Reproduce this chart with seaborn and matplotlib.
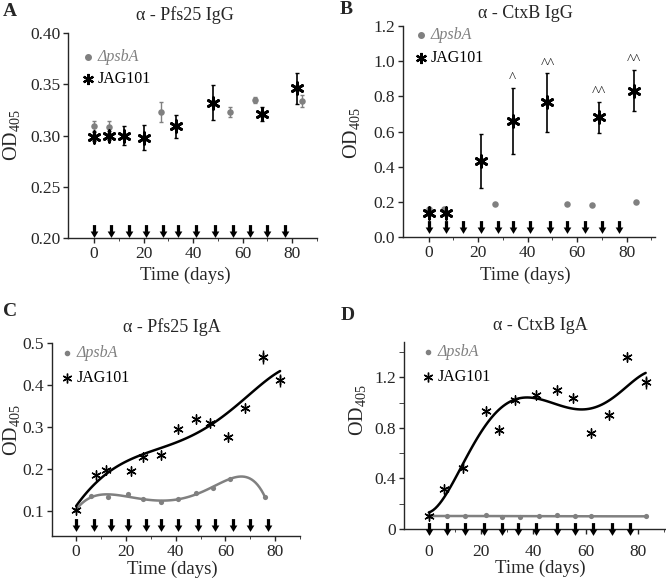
import numpy as np
import pandas as pd
import matplotlib
matplotlib.use("Agg")
import matplotlib.pyplot as plt
from matplotlib.path import Path
from matplotlib.lines import Line2D
import seaborn as sns

# ---------------- data ----------------
immunization_days = [0, 7, 14, 21, 28, 34, 41, 49, 56, 63, 70, 77]

# A: alpha-Pfs25 IgG
a_psba_days = [0, 6, 27, 55, 65, 84]
a_psba_od = [0.309, 0.308, 0.323, 0.323, 0.335, 0.334]
a_psba_err = [0.005, 0.006, 0.010, 0.005, 0.003, 0.006]
a_jag_days = [0, 6, 12, 20, 33, 48, 68, 82]
a_jag_od = [0.299, 0.300, 0.300, 0.298, 0.309, 0.332, 0.321, 0.346]
a_jag_err = [0.004, 0.004, 0.009, 0.012, 0.011, 0.017, 0.007, 0.015]

# B: alpha-CtxB IgG
b_psba_days = [0, 6, 27, 56, 66, 84]
b_psba_od = [0.158, 0.158, 0.185, 0.190, 0.181, 0.200]
b_jag_days = [0, 7, 21, 34, 48, 69, 83]
b_jag_od = [0.135, 0.138, 0.433, 0.660, 0.765, 0.680, 0.833]
b_jag_err = [0.008, 0.008, 0.155, 0.187, 0.165, 0.088, 0.118]
b_sig = ["", "", "", "^", "^^", "^^", "^^"]

# C: alpha-Pfs25 IgA
c_psba_days = [0, 6, 13, 21, 27, 34, 41, 48, 55, 62, 76]
c_psba_od = [0.102, 0.136, 0.132, 0.140, 0.128, 0.120, 0.128, 0.142, 0.155, 0.177, 0.132]
c_jag_days = [0, 8, 12, 22, 27, 34, 41, 48, 54, 61, 68, 75, 82]
c_jag_od = [0.102, 0.186, 0.198, 0.194, 0.229, 0.233, 0.294, 0.320, 0.310, 0.276, 0.346, 0.467, 0.411]
c_jag_err = [0.003, 0.004, 0.004, 0.004, 0.004, 0.004, 0.004, 0.004, 0.004, 0.005, 0.005, 0.016, 0.016]

# D: alpha-CtxB IgA
d_psba_days = [0, 7, 14, 22, 28, 35, 42, 49, 56, 62, 83]
d_psba_od = [0.10, 0.105, 0.105, 0.11, 0.095, 0.095, 0.10, 0.11, 0.10, 0.10, 0.10]
d_jag_days = [0, 6, 13, 22, 27, 33, 41, 49, 55, 62, 69, 76, 83]
d_jag_od = [0.10, 0.32, 0.48, 0.93, 0.78, 1.02, 1.06, 1.10, 1.04, 0.76, 0.90, 1.36, 1.16]
d_jag_err = [0.01, 0.01, 0.01, 0.01, 0.01, 0.01, 0.01, 0.01, 0.01, 0.01, 0.01, 0.02, 0.05]

titles = ["\u03b1 - Pfs25 IgG", "\u03b1 - CtxB IgG", "\u03b1 - Pfs25 IgA", "\u03b1 - CtxB IgA"]
letters = ["A", "B", "C", "D"]
legend_labels = ["\u0394psbA", "JAG101"]

# ---------------- style ----------------
sns.set_style("ticks")
plt.rcParams["font.family"] = ["Liberation Serif", "DejaVu Serif"]
plt.rcParams["mathtext.fontset"] = "custom"
plt.rcParams["mathtext.rm"] = "Liberation Serif"
plt.rcParams["mathtext.it"] = "Liberation Serif:italic"
plt.rcParams["axes.linewidth"] = 1.0
plt.rcParams["xtick.major.width"] = 1.0
plt.rcParams["ytick.major.width"] = 1.0

GREY = "#808080"
W, H = 666, 579
fig = plt.figure(figsize=(W / 100, H / 100), dpi=100)

def px_axes(l, t, r, b):
    return fig.add_axes([l / W, 1 - b / H, (r - l) / W, (b - t) / H])

def fx(x):
    return x / W

def fy(y):
    return 1 - y / H

arrow_marker = Path([(-0.25, 1.0), (0.25, 1.0), (0.25, 0.0), (0.6, 0.0), (0.0, -1.0),
                     (-0.6, 0.0), (-0.25, 0.0), (-0.25, 1.0)],
                    [Path.MOVETO] + [Path.LINETO] * 6 + [Path.CLOSEPOLY])
asterisk = (6, 2, 0)

def style_axis(ax, xlim, ylim, yticks, yfmt, fs=12.5):
    ax.set_xlim(*xlim)
    ax.set_ylim(*ylim)
    ax.set_xticks([0, 20, 40, 60, 80])
    ax.set_xticks([10, 30, 50, 70, 90], minor=True)
    ax.set_yticks(yticks)
    ax.set_yticklabels([yfmt(v) for v in yticks])
    ax.tick_params(axis="both", which="major", direction="out", length=3.5, labelsize=fs, pad=2)
    ax.tick_params(axis="both", which="minor", direction="out", length=2.5)
    sns.despine(ax=ax)
    ax.set_xlabel("")
    ax.set_ylabel("")

def arrows(ax, yval, s=85):
    sns.scatterplot(x=immunization_days, y=[yval] * len(immunization_days), ax=ax,
                    marker=arrow_marker, s=s, color="black", linewidth=0, clip_on=False, zorder=5)

def legend(x, y_dot, y_star, dot_s, star_ms, star_lw, fs=11.5):
    fig.add_artist(Line2D([fx(x)], [fy(y_dot)], marker="o", markersize=dot_s, color=GREY, linestyle="none"))
    fig.add_artist(Line2D([fx(x)], [fy(y_star)], marker=asterisk, markersize=star_ms,
                          markeredgewidth=star_lw, color="black", linestyle="none"))
    fig.text(fx(x + 10), fy(y_dot), legend_labels[0], color=GREY, style="italic",
             fontsize=fs, va="center", ha="left", family="Liberation Serif")
    fig.text(fx(x + 10), fy(y_star), legend_labels[1], color="black",
             fontsize=fs, va="center", ha="left", family="Liberation Serif")

def labels(letter, lx, ly, title, tx, ty, ylx, yly, xlx, xly):
    fig.text(fx(lx), fy(ly), letter, fontsize=14, fontweight="bold", va="center", ha="left")
    fig.text(fx(tx), fy(ty), title, fontsize=13, va="center", ha="center")
    fig.text(fx(ylx), fy(yly), r"OD$_{405}$", fontsize=14.5, rotation=90, va="center", ha="center")
    fig.text(fx(xlx), fy(xly), "Time (days)", fontsize=13.5, va="center", ha="center")

# ---------------- Panel A ----------------
axA = px_axes(68, 33, 317, 238)
axA.errorbar(a_psba_days, a_psba_od, yerr=a_psba_err, fmt="none", ecolor=GREY, elinewidth=1, capsize=1.5)
axA.errorbar(a_jag_days, a_jag_od, yerr=a_jag_err, fmt="none", ecolor="black", elinewidth=1.2, capsize=1.5)
sns.scatterplot(x=a_psba_days, y=a_psba_od, ax=axA, color=GREY, s=22, linewidth=0, zorder=4)
sns.scatterplot(x=a_jag_days, y=a_jag_od, ax=axA, marker=asterisk, s=70, color="black",
                edgecolor="black", linewidth=2, zorder=5)
arrows(axA, 0.2065)
style_axis(axA, (-10.5, 89.6), (0.2, 0.4), [0.2, 0.25, 0.3, 0.35, 0.4], lambda v: f"{v:.2f}")
labels("A", 3, 12, titles[0], 185, 15, 12, 135, 185, 275)
legend(88, 57, 79, 4, 8, 1.6)

# ---------------- Panel B ----------------
axB = px_axes(403, 26, 655, 237)
axB.errorbar(b_jag_days, b_jag_od, yerr=b_jag_err, fmt="none", ecolor="black", elinewidth=1.2, capsize=1.5)
sns.scatterplot(x=b_psba_days, y=b_psba_od, ax=axB, color=GREY, s=22, linewidth=0, zorder=4)
sns.scatterplot(x=b_jag_days, y=b_jag_od, ax=axB, marker=asterisk, s=70, color="black",
                edgecolor="black", linewidth=2, zorder=5)
for d, v, e, t in zip(b_jag_days, b_jag_od, b_jag_err, b_sig):
    if t:
        axB.text(d, v + e + 0.015, t, ha="center", va="bottom", fontsize=11)
arrows(axB, 0.057)
style_axis(axB, (-10.4, 91.5), (0.0, 1.2), [0.0, 0.2, 0.4, 0.6, 0.8, 1.0, 1.2], lambda v: f"{v:.1f}")
labels("B", 340, 10, titles[1], 525, 13, 352, 133, 525, 275)
legend(421, 35, 58, 4, 8, 1.6)

# ---------------- Panel C ----------------
axC = px_axes(52, 343, 300, 536)
sns.regplot(x=np.array(c_jag_days, float), y=np.array(c_jag_od), ax=axC, order=5, ci=None, scatter=False,
            line_kws=dict(color="black", lw=1.8))
sns.regplot(x=np.array(c_psba_days, float), y=np.array(c_psba_od), ax=axC, order=6, ci=None, scatter=False,
            line_kws=dict(color=GREY, lw=1.8))
axC.errorbar(c_jag_days, c_jag_od, yerr=c_jag_err, fmt="none", ecolor="black", elinewidth=1, capsize=0)
sns.scatterplot(x=c_psba_days, y=c_psba_od, ax=axC, color=GREY, s=14, linewidth=0, zorder=4)
sns.scatterplot(x=c_jag_days, y=c_jag_od, ax=axC, marker=asterisk, s=45, color="black",
                edgecolor="black", linewidth=1, zorder=5)
arrows(axC, 0.067)
style_axis(axC, (-9.7, 89.3), (0.04, 0.5), [0.1, 0.2, 0.3, 0.4, 0.5], lambda v: f"{v:.1f}")
labels("C", 3, 312, titles[2], 172, 327, 11, 430, 172, 569)
legend(67, 353, 378, 3, 7, 1.0)

# ---------------- Panel D ----------------
axD = px_axes(404, 342, 665, 529)
sns.regplot(x=np.array(d_jag_days, float), y=np.array(d_jag_od), ax=axD, order=5, ci=None, scatter=False,
            line_kws=dict(color="black", lw=1.8))
sns.regplot(x=np.array(d_psba_days, float), y=np.array(d_psba_od), ax=axD, order=3, ci=None, scatter=False,
            line_kws=dict(color=GREY, lw=1.8))
axD.errorbar(d_jag_days, d_jag_od, yerr=d_jag_err, fmt="none", ecolor="black", elinewidth=1, capsize=0)
sns.scatterplot(x=d_psba_days, y=d_psba_od, ax=axD, color=GREY, s=14, linewidth=0, zorder=4)
sns.scatterplot(x=d_jag_days, y=d_jag_od, ax=axD, marker=asterisk, s=45, color="black",
                edgecolor="black", linewidth=1, zorder=5)
arrows(axD, 0.0)
style_axis(axD, (-9.5, 90.4), (0.0, 1.48), [0.0, 0.4, 0.8, 1.2], lambda v: "0" if v == 0 else f"{v:.1f}")
axD.set_yticks([0.2, 0.6, 1.0, 1.4], minor=True)
axD.tick_params(axis="y", which="minor", length=3.5)
axD.tick_params(axis="x", which="major", pad=7)
labels("D", 341, 315, titles[3], 540, 325, 357, 410, 540, 568)
legend(428, 352, 377, 3, 7, 1.0)

fig.savefig("out.png", dpi=100)
